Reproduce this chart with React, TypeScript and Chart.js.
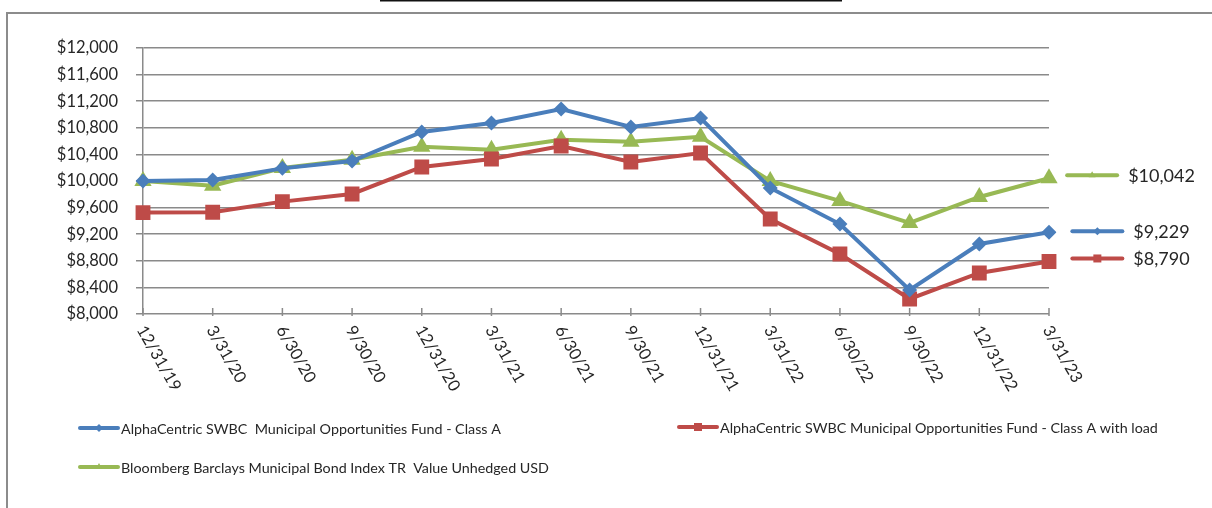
import React, { useEffect, useRef } from "react";
import { Chart, registerables } from "chart.js";

Chart.register(...registerables);

const categories = [
  "12/31/19", "3/31/20", "6/30/20", "9/30/20", "12/31/20", "3/31/21", "6/30/21",
  "9/30/21", "12/31/21", "3/31/22", "6/30/22", "9/30/22", "12/31/22", "3/31/23",
];
const classA = [10000, 10015, 10190, 10300, 10737, 10872, 11083, 10812, 10947, 9895, 9353, 8361, 9053, 9229];
const classALoad = [9525, 9530, 9690, 9805, 10211, 10331, 10526, 10286, 10421, 9429, 8902, 8226, 8617, 8790];
const bloomberg = [10000, 9930, 10195, 10320, 10515, 10470, 10620, 10590, 10665, 10000, 9700, 9370, 9760, 10042];
const seriesNames = [
  "AlphaCentric SWBC  Municipal Opportunities Fund - Class A",
  "AlphaCentric SWBC Municipal Opportunities Fund - Class A with load",
  "Bloomberg Barclays Municipal Bond Index TR  Value Unhedged USD",
];
const yMin = 8000;
const yMax = 12000;
const yStep = 400;

const BLUE = "#4A7EBB";
const RED = "#BE4B48";
const GREEN = "#98B954";
const GRID = "#8a8a8a";
const TEXT = "#262626";
const FONT = "Lato, 'Open Sans', sans-serif";

const fmt = (v: number) => "$" + v.toLocaleString("en-US");

function drawMarker(ctx: CanvasRenderingContext2D, style: string, x: number, y: number, r: number, color: string) {
  ctx.save();
  ctx.fillStyle = color;
  ctx.beginPath();
  if (style === "rectRot") {
    ctx.moveTo(x - r, y);
    ctx.lineTo(x, y - r);
    ctx.lineTo(x + r, y);
    ctx.lineTo(x, y + r);
  } else if (style === "rect") {
    ctx.rect(x - r, y - r, 2 * r, 2 * r);
  } else {
    ctx.moveTo(x, y - r);
    ctx.lineTo(x + r * 0.866, y + r * 0.5);
    ctx.lineTo(x - r * 0.866, y + r * 0.5);
  }
  ctx.closePath();
  ctx.fill();
  ctx.restore();
}

const decorPlugin = {
  id: "decor",
  afterDraw(chart: any) {
    const ctx: CanvasRenderingContext2D = chart.ctx;
    const xs = chart.scales.x;
    const ys = chart.scales.y;
    ctx.save();

    // outer frame (partially visible)
    ctx.strokeStyle = "#8c8c8c";
    ctx.lineWidth = 2;
    ctx.beginPath();
    ctx.moveTo(7, 508);
    ctx.lineTo(7, 13);
    ctx.lineTo(1212, 13);
    ctx.stroke();

    // cut-off title underline
    ctx.strokeStyle = "#111";
    ctx.lineWidth = 2;
    ctx.beginPath();
    ctx.moveTo(380, 0.5);
    ctx.lineTo(842, 0.5);
    ctx.stroke();

    // x tick marks
    ctx.strokeStyle = GRID;
    ctx.lineWidth = 1.5;
    const bottom = chart.chartArea.bottom;
    categories.forEach((_, i) => {
      const x = xs.getPixelForValue(i);
      ctx.beginPath();
      ctx.moveTo(x, bottom - 6);
      ctx.lineTo(x, bottom + 2);
      ctx.stroke();
    });

    // rotated category labels
    ctx.fillStyle = TEXT;
    ctx.font = `16.5px ${FONT}`;
    ctx.textAlign = "left";
    ctx.textBaseline = "top";
    categories.forEach((c, i) => {
      const x = xs.getPixelForValue(i);
      ctx.save();
      ctx.translate(x + 5, bottom + 9);
      ctx.rotate((60 * Math.PI) / 180);
      ctx.fillText(c, 0, 0);
      ctx.restore();
    });

    // end-of-series labels
    const ends = [
      { data: bloomberg, color: GREEN, style: "triangle", dy: -3 },
      { data: classA, color: BLUE, style: "rectRot", dy: -1 },
      { data: classALoad, color: RED, style: "rect", dy: -3 },
    ];
    ctx.font = `18px ${FONT}`;
    ctx.textBaseline = "middle";
    ends.forEach((e) => {
      const last = e.data[e.data.length - 1];
      const y = ys.getPixelForValue(last) + e.dy;
      const label = fmt(last);
      const tw = ctx.measureText(label).width;
      const total = 50 + 11 + tw;
      const x0 = 1131 - total / 2;
      ctx.strokeStyle = e.color;
      ctx.lineWidth = 4;
      ctx.lineCap = "round";
      ctx.beginPath();
      ctx.moveTo(x0, y);
      ctx.lineTo(x0 + 50, y);
      ctx.stroke();
      drawMarker(ctx, e.style, x0 + 25, y, 4, e.color);
      ctx.fillStyle = TEXT;
      ctx.fillText(label, x0 + 61, y + 1);
    });

    // bottom legend
    const legend = [
      { name: seriesNames[0], color: BLUE, style: "rectRot", x: 80, y: 428 },
      { name: seriesNames[1], color: RED, style: "rect", x: 679, y: 427 },
      { name: seriesNames[2], color: GREEN, style: "triangle", x: 80, y: 467 },
    ];
    ctx.font = `14.3px ${FONT}`;
    legend.forEach((l) => {
      ctx.strokeStyle = l.color;
      ctx.lineWidth = 4;
      ctx.lineCap = "round";
      ctx.beginPath();
      ctx.moveTo(l.x, l.y);
      ctx.lineTo(l.x + 38, l.y);
      ctx.stroke();
      drawMarker(ctx, l.style, l.x + 19, l.y, 4, l.color);
      ctx.fillStyle = TEXT;
      ctx.fillText(l.name, l.x + 41, l.y + 1);
    });

    ctx.restore();
  },
};

export default function App() {
  const ref = useRef<HTMLCanvasElement | null>(null);

  useEffect(() => {
    if (!ref.current) return;
    const chart = new Chart(ref.current, {
      type: "line",
      data: {
        labels: categories,
        datasets: [
          {
            label: seriesNames[0],
            data: classA,
            borderColor: BLUE,
            backgroundColor: BLUE,
            borderWidth: 4,
            pointStyle: "rectRot",
            pointRadius: 7.5,
            pointBorderWidth: 0,
            tension: 0,
          },
          {
            label: seriesNames[1],
            data: classALoad,
            borderColor: RED,
            backgroundColor: RED,
            borderWidth: 4,
            pointStyle: "rect",
            pointRadius: 10.5,
            pointBorderWidth: 0,
            tension: 0,
          },
          {
            label: seriesNames[2],
            data: bloomberg,
            borderColor: GREEN,
            backgroundColor: GREEN,
            borderWidth: 4,
            pointStyle: "triangle",
            pointRadius: 10,
            pointBorderWidth: 0,
            tension: 0,
          },
        ],
      },
      options: {
        responsive: false,
        animation: false,
        layout: { padding: { top: 48, right: 163, left: 0, bottom: 0 } },
        plugins: {
          legend: { display: false },
          tooltip: { enabled: false },
          title: { display: false },
        },
        scales: {
          x: {
            type: "category",
            offset: false,
            grid: { display: false, drawTicks: false },
            border: { display: false },
            ticks: { display: false },
            afterFit: (s: any) => {
              s.height = 194;
            },
          },
          y: {
            min: yMin,
            max: yMax,
            ticks: {
              stepSize: yStep,
              color: TEXT,
              padding: 18,
              font: { family: FONT, size: 16.5 },
              callback: (v: any) => fmt(Number(v)),
            },
            grid: { color: GRID, lineWidth: 1.5, tickLength: 7 },
            border: { display: true, color: GRID, width: 1.5 },
            afterFit: (s: any) => {
              s.width = 143;
            },
          },
        },
      },
      plugins: [decorPlugin],
    });
    return () => chart.destroy();
  }, []);

  return (
    <div style={{ position: "absolute", left: 0, top: 0, width: 1212, height: 508, background: "#fff" }}>
      <canvas ref={ref} width={1212} height={508} style={{ width: 1212, height: 508, display: "block" }} />
    </div>
  );
}
